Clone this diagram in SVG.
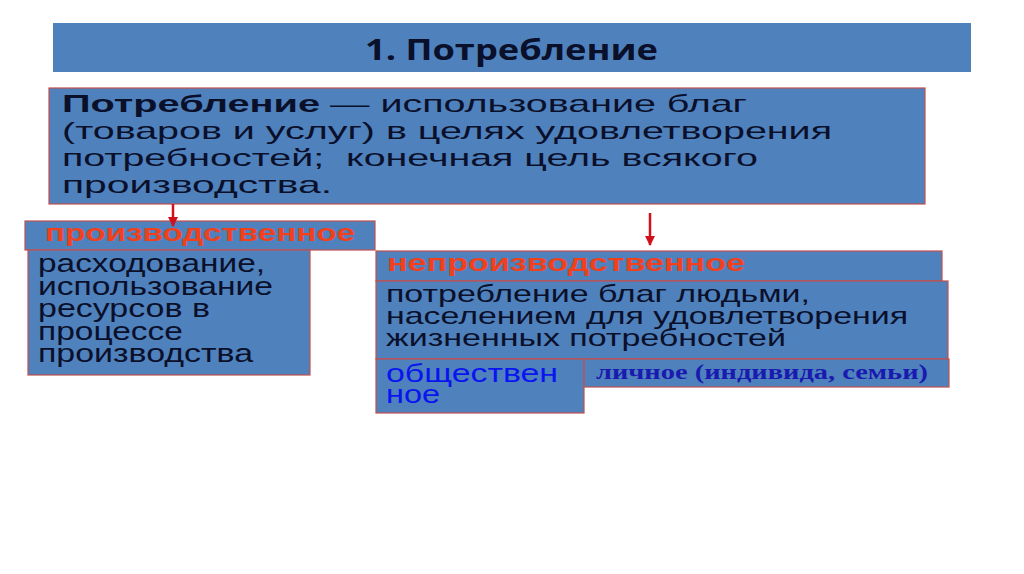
<svg xmlns="http://www.w3.org/2000/svg" width="1024" height="574" viewBox="0 0 1024 574">
<style>
.box{fill:#4f81bd;stroke:#c0504d;stroke-width:1.2}
.t{font-family:"Liberation Sans",Arial,sans-serif;fill:#0a0f2a}
.red{font-family:"Liberation Sans",Arial,sans-serif;font-weight:bold;fill:#f0401c}
.blue{font-family:"Liberation Sans",Arial,sans-serif;fill:#0a14f0}
.conn{stroke:#d0101c;stroke-width:2.5;fill:none}
</style>
<defs>
<marker id="ah" viewBox="0 0 10 10" refX="9" refY="5" markerWidth="4" markerHeight="4" orient="auto" markerUnits="strokeWidth">
<path d="M0,0 L10,5 L0,10 z" fill="#d0101c"/>
</marker>
</defs>
<rect width="1024" height="574" fill="#ffffff"/>
<g id="title">
<rect x="53" y="23" width="918" height="49" fill="#4f81bd"/>
<text x="365" y="60" font-family="'Open Sans','Liberation Sans',sans-serif" font-weight="bold" font-size="28" fill="#0a0f2a" textLength="293" lengthAdjust="spacingAndGlyphs">1. Потребление</text>
</g>
<g id="definition">
<rect class="box" x="49" y="88" width="876" height="116"/>
<text class="t" x="62" y="112" font-size="24" font-weight="bold" textLength="258" lengthAdjust="spacingAndGlyphs">Потребление</text>
<text class="t" x="330" y="112" font-size="24" textLength="417" lengthAdjust="spacingAndGlyphs">— использование благ</text>
<text class="t" x="62" y="139" font-size="24" textLength="770" lengthAdjust="spacingAndGlyphs">(товаров и услуг) в целях удовлетворения</text>
<text class="t" x="62" y="166" font-size="24" textLength="696" lengthAdjust="spacingAndGlyphs" xml:space="preserve">потребностей;  конечная цель всякого</text>
<text class="t" x="62" y="193" font-size="24" textLength="270" lengthAdjust="spacingAndGlyphs">производства.</text>
</g>
<g id="productive-header">
<rect class="box" x="25" y="221" width="350" height="29"/>
<text class="red" x="45" y="241" font-size="24" textLength="310" lengthAdjust="spacingAndGlyphs">производственное</text>
</g>
<g id="productive-desc">
<rect class="box" x="28" y="250" width="282" height="125"/>
<text class="t" x="38" y="272" font-size="25" textLength="227" lengthAdjust="spacingAndGlyphs">расходование,</text>
<text class="t" x="38" y="294.5" font-size="25" textLength="235" lengthAdjust="spacingAndGlyphs">использование</text>
<text class="t" x="38" y="317" font-size="25" textLength="172" lengthAdjust="spacingAndGlyphs">ресурсов в</text>
<text class="t" x="38" y="339.5" font-size="25" textLength="145" lengthAdjust="spacingAndGlyphs">процессе</text>
<text class="t" x="38" y="362" font-size="25" textLength="215" lengthAdjust="spacingAndGlyphs">производства</text>
</g>
<g id="nonproductive-header">
<rect class="box" x="376" y="251" width="566" height="30"/>
<text class="red" x="387" y="271" font-size="24" textLength="358" lengthAdjust="spacingAndGlyphs">непроизводственное</text>
</g>
<g id="nonproductive-desc">
<rect class="box" x="376" y="281" width="572" height="78"/>
<text class="t" x="386" y="302" font-size="24" textLength="424" lengthAdjust="spacingAndGlyphs">потребление благ людьми,</text>
<text class="t" x="386" y="324" font-size="24" textLength="522" lengthAdjust="spacingAndGlyphs">населением для удовлетворения</text>
<text class="t" x="386" y="346" font-size="24" textLength="400" lengthAdjust="spacingAndGlyphs">жизненных потребностей</text>
</g>
<g id="public">
<rect class="box" x="376" y="359" width="208" height="54"/>
<text class="blue" x="386" y="382" font-size="25" textLength="172" lengthAdjust="spacingAndGlyphs">обществен</text>
<text class="blue" x="386" y="403" font-size="25" textLength="54" lengthAdjust="spacingAndGlyphs">ное</text>
</g>
<g id="personal">
<rect class="box" x="584" y="359" width="365" height="28"/>
<text x="596" y="379" font-family="'Liberation Serif','Times New Roman',serif" font-weight="bold" font-size="20" fill="#1a1ab0" textLength="332" lengthAdjust="spacingAndGlyphs">личное (индивида, семьи)</text>
</g>
<g id="connectors">
<line class="conn" x1="173" y1="204" x2="173" y2="226" marker-end="url(#ah)"/>
<line class="conn" x1="650" y1="213" x2="650" y2="245" marker-end="url(#ah)"/>
</g>
</svg>
